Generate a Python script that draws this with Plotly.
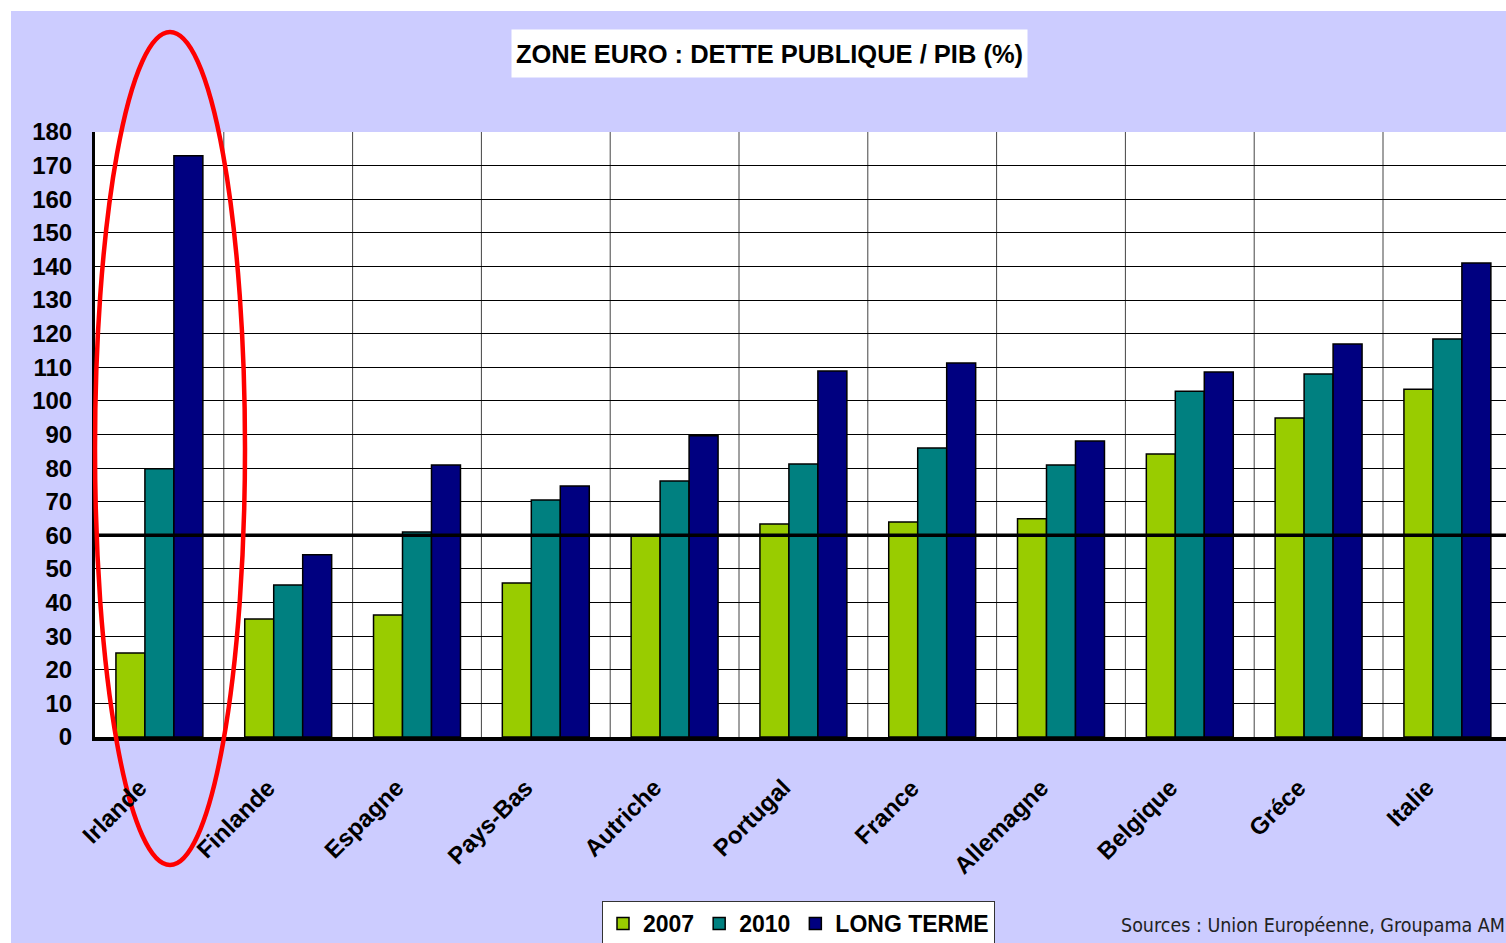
import plotly.graph_objects as go

# ---- data ----
countries = ["Irlande", "Finlande", "Espagne", "Pays-Bas", "Autriche", "Portugal",
             "France", "Allemagne", "Belgique", "Gréce", "Italie"]
dette_2007 = [25.0, 35.1, 36.3, 45.8, 59.8, 63.4, 64.0, 64.9, 84.2, 94.9, 103.5]
dette_2010 = [79.8, 45.2, 61.0, 70.5, 76.2, 81.2, 86.0, 80.9, 102.9, 108.0, 118.4]
dette_long_terme = [172.9, 54.2, 80.9, 74.7, 89.6, 108.9, 111.3, 88.1, 108.6, 116.9, 141.0]
series_names = ["2007", "2010", "LONG TERME"]
y_ticks = list(range(0, 181, 10))
seuil = 60

# ---- styling / layout ----
W, H = 1506, 943
L, R, T, B = 95, 1506, 132, 737  # plot area in pixels
colors = ["#99CC00", "#008080", "#000080"]
BG = "#CCCCFF"
FONT = "Liberation Sans"


def px(x):
    return (x - L) / (R - L)


def py(y):
    return (B - y) / (B - T)


fig = go.Figure()
for name, vals, col in zip(series_names, [dette_2007, dette_2010, dette_long_terme], colors):
    fig.add_trace(go.Bar(
        x=countries, y=vals, name=name,
        marker=dict(color=col, line=dict(color="#000000", width=1.5)),
    ))

shapes = []
# vertical grid lines at category boundaries
for i in range(1, len(countries) + 1):
    shapes.append(dict(type="line", xref="x", yref="paper", x0=i - 0.5, x1=i - 0.5,
                       y0=0, y1=1, line=dict(color="#444444", width=1), layer="below"))
# 60% threshold line
shapes.append(dict(type="line", xref="paper", yref="y", x0=0, x1=1, y0=seuil, y1=seuil,
                   line=dict(color="#000000", width=3.5), layer="above"))
# white outer border strips (top & left)
shapes.append(dict(type="rect", xref="paper", yref="paper", x0=px(0), x1=px(W), y0=py(0), y1=py(11),
                   fillcolor="white", line=dict(width=0), layer="above"))
shapes.append(dict(type="rect", xref="paper", yref="paper", x0=px(0), x1=px(11), y0=py(0), y1=py(H),
                   fillcolor="white", line=dict(width=0), layer="above"))
# red ellipse highlight
shapes.append(dict(type="circle", xref="paper", yref="paper", x0=px(95), x1=px(245), y0=py(32), y1=py(865),
                   line=dict(color="#FF0000", width=4.5), layer="above"))

annotations = [
    dict(text="ZONE EURO : DETTE PUBLIQUE / PIB (%)", xref="paper", yref="paper",
         x=px(769.5), y=py(53.5), xanchor="center", yanchor="middle", showarrow=False,
         font=dict(family=FONT, size=25.5, color="#000000", weight="bold"),
         bgcolor="white", width=507, height=39, borderpad=4),
    dict(text="Sources : Union Européenne, Groupama AM", xref="paper", yref="paper",
         x=px(1119), y=py(925), xanchor="left", yanchor="middle", showarrow=False,
         font=dict(family="DejaVu Sans Condensed", size=19.5, color="#222222")),
]
# category labels, rotated 45 degrees below the axis
for c in countries:
    annotations.append(dict(text=c, xref="x", yref="y", x=c, y=0, xanchor="right", yanchor="top",
                            textangle=-45, showarrow=False, xshift=-5, yshift=-34,
                            font=dict(family=FONT, size=24, color="#000000", weight="bold")))

fig.update_layout(
    width=W, height=H,
    margin=dict(l=L, r=W - R, t=T, b=H - B, pad=0, autoexpand=False),
    paper_bgcolor=BG, plot_bgcolor="white",
    barmode="group", bargap=0.325, bargroupgap=0,
    showlegend=True,
    legend=dict(orientation="h", x=px(602), y=py(901), xanchor="left", yanchor="top",
                bgcolor="white", bordercolor="#333333", borderwidth=1,
                font=dict(family=FONT, size=23, color="#000000", weight="bold"),
                itemwidth=30, traceorder="normal"),
    shapes=shapes, annotations=annotations,
    xaxis=dict(range=[-0.5, -0.5 + (R - L) / 128.8], showgrid=False, showline=True,
               linecolor="#000000", linewidth=4, ticks="", showticklabels=False,
               fixedrange=True),
    yaxis=dict(range=[0, 180], tickvals=y_ticks, showgrid=True, gridcolor="#000000", gridwidth=1,
               showline=True, linecolor="#000000", linewidth=3, ticks="", zeroline=False,
               tickfont=dict(family=FONT, size=24, color="#000000", weight="bold"),
               ticklabelstandoff=15, fixedrange=True),
)

fig.write_html("out.html", config={"displayModeBar": False},
               post_script="document.body.style.margin='0px';")
